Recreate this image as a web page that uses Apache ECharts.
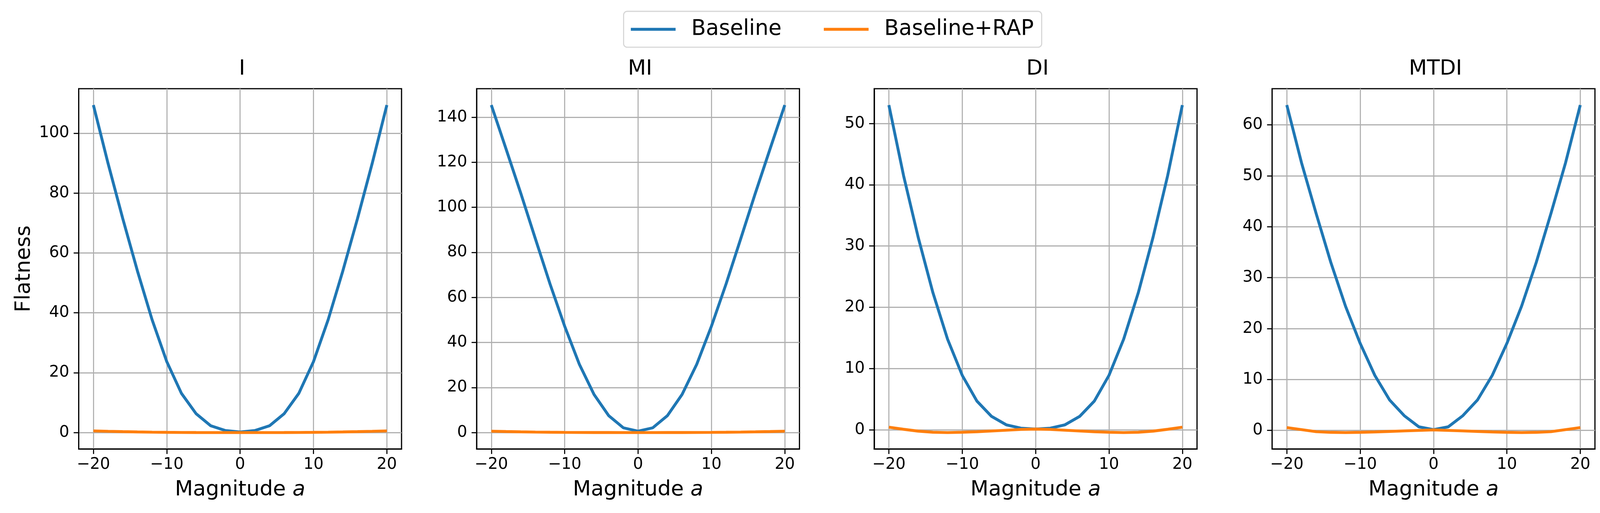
<!DOCTYPE html>
<html>
<head>
<meta charset="utf-8">
<script src="https://cdn.jsdelivr.net/npm/echarts@6/dist/echarts.min.js"></script>
<style>
	html, body { margin: 0; padding: 0; background: #fff; overflow: hidden; }
	#chart { position: absolute; left: 0; top: 0; }
</style>
</head>
<body>
<div id="chart"></div>
<script>
// data
var magnitudes = [-20, -18, -16, -14, -12, -10, -8, -6, -4, -2, 0, 2, 4, 6, 8, 10, 12, 14, 16, 18, 20];
var panelTitles = ["I", "MI", "DI", "MTDI"];

var baselineI = [109.4, 89.9, 71.5, 54.0, 37.7, 23.7, 13.1, 6.3, 2.25, 0.66, 0.2, 0.66, 2.25, 6.3, 13.1, 23.7, 37.7, 54.0, 71.5, 89.9, 109.4];
var rapI = [0.55, 0.42, 0.3, 0.2, 0.12, 0.07, 0.03, 0.01, 0.0, 0.0, 0.0, 0.0, 0.0, 0.01, 0.03, 0.07, 0.12, 0.2, 0.3, 0.42, 0.55];

var baselineMI = [145.4, 126.0, 106.4, 86.1, 66.0, 47.2, 30.3, 16.9, 7.5, 2.1, 0.6, 2.1, 7.5, 16.9, 30.3, 47.2, 66.0, 86.1, 106.4, 126.0, 145.4];
var rapMI = [0.6, 0.45, 0.32, 0.22, 0.14, 0.08, 0.04, 0.02, 0.01, 0.0, 0.0, 0.0, 0.01, 0.02, 0.04, 0.08, 0.14, 0.22, 0.32, 0.45, 0.6];

var baselineDI = [53.0, 41.5, 31.4, 22.4, 14.8, 8.9, 4.7, 2.2, 0.83, 0.28, 0.14, 0.28, 0.83, 2.2, 4.7, 8.9, 14.8, 22.4, 31.4, 41.5, 53.0];
var rapDI = [0.45, 0.1, -0.2, -0.38, -0.43, -0.38, -0.3, -0.18, -0.05, 0.08, 0.13, 0.08, -0.05, -0.18, -0.3, -0.38, -0.43, -0.38, -0.2, 0.1, 0.45];

var baselineMTDI = [63.9, 52.6, 42.6, 33.0, 24.4, 17.1, 10.8, 6.0, 2.9, 0.7, 0.15, 0.7, 2.9, 6.0, 10.8, 17.1, 24.4, 33.0, 42.6, 52.6, 63.9];
var rapMTDI = [0.55, 0.15, -0.25, -0.38, -0.42, -0.38, -0.3, -0.2, -0.1, 0.0, 0.1, 0.0, -0.1, -0.2, -0.3, -0.38, -0.42, -0.38, -0.25, 0.15, 0.55];

var xTicks = [-20, -10, 0, 10, 20];
var yTicksI = [0, 20, 40, 60, 80, 100];
var yTicksMI = [0, 20, 40, 60, 80, 100, 120, 140];
var yTicksDI = [0, 10, 20, 30, 40, 50];
var yTicksMTDI = [0, 10, 20, 30, 40, 50, 60];

var baselines = [baselineI, baselineMI, baselineDI, baselineMTDI];
var raps = [rapI, rapMI, rapDI, rapMTDI];
var yTicks = [yTicksI, yTicksMI, yTicksDI, yTicksMTDI];

// layout numbers are in 4431x1313 reference pixels, mapped onto the real viewport
var W = window.innerWidth || 4431;
var H = window.innerHeight || 1313;
var kx = W / 4431;
var ky = H / 1313;
var k = Math.min(kx, ky);
function SX(v) { return v * kx; }
function SY(v) { return v * ky; }
function S(v) { return v * k; }

var FONT = "DejaVu Sans";
var BLUE = "#1f77b4";
var ORANGE = "#ff7f0e";
var gridLefts = [218, 1320, 2421, 3523];
var gridTop = 227;
var gridWidth = 894;
var gridHeight = 922;

function minusSign(v) {
	return String(v).replace("-", "\u2212");
}

function pairs(ys) {
	var out = [];
	for (var i = 0; i < magnitudes.length; i++) {
		out.push([magnitudes[i], ys[i]]);
	}
	return out;
}

var grids = [], xAxes = [], yAxes = [], titles = [], series = [];

for (var p = 0; p < 4; p++) {
	// matplotlib style 5% margins
	var all = baselines[p].concat(raps[p]);
	var lo = Math.min.apply(null, all);
	var hi = Math.max.apply(null, all);
	var pad = (hi - lo) * 0.05;

	grids.push({
		left: SX(gridLefts[p]),
		top: SY(gridTop),
		width: SX(gridWidth),
		height: SY(gridHeight),
		containLabel: false,
		outerBoundsMode: "none",
		show: true,
		borderColor: "#000",
		borderWidth: S(3.3),
		backgroundColor: "#fff"
	});

	titles.push({
		text: panelTitles[p],
		left: SX(gridLefts[p] + gridWidth / 2),
		top: SY(145),
		textAlign: "center",
		textStyle: { fontFamily: FONT, fontSize: S(58), fontWeight: "normal", color: "#000" }
	});

	xAxes.push({
		type: "value",
		gridIndex: p,
		min: -22,
		max: 22,
		name: "{n|Magnitude }{i|a}",
		nameLocation: "middle",
		nameGap: SY(78),
		nameTextStyle: {
			rich: {
				n: { fontFamily: FONT, fontSize: S(58), color: "#000" },
				i: { fontFamily: FONT, fontSize: S(58), color: "#000", fontStyle: "italic" }
			}
		},
		axisLine: { show: true, onZero: false, lineStyle: { color: "#000", width: S(3.3) } },
		axisTick: { show: true, length: S(14), customValues: xTicks, lineStyle: { color: "#000", width: S(3) } },
		axisLabel: { customValues: xTicks, margin: SY(20), fontFamily: FONT, fontSize: S(44), color: "#000", formatter: minusSign },
		splitLine: { show: true, lineStyle: { color: "#b0b0b0", width: S(3) } }
	});

	yAxes.push({
		type: "value",
		gridIndex: p,
		min: lo - pad,
		max: hi + pad,
		name: p == 0 ? "Flatness" : "",
		nameLocation: "middle",
		nameGap: SX(122),
		nameTextStyle: { fontFamily: FONT, fontSize: S(58), color: "#000" },
		axisLine: { show: true, onZero: false, lineStyle: { color: "#000", width: S(3.3) } },
		axisTick: { show: true, length: S(14), customValues: yTicks[p], lineStyle: { color: "#000", width: S(3) } },
		axisLabel: { customValues: yTicks[p], margin: SX(26), fontFamily: FONT, fontSize: S(44), color: "#000" },
		splitLine: { show: true, lineStyle: { color: "#b0b0b0", width: S(3) } }
	});

	series.push({
		name: "Baseline",
		type: "line",
		xAxisIndex: p,
		yAxisIndex: p,
		data: pairs(baselines[p]),
		symbol: "none",
		animation: false,
		lineStyle: { color: BLUE, width: S(8) },
		itemStyle: { color: BLUE },
		z: 3
	});
	series.push({
		name: "Baseline+RAP",
		type: "line",
		xAxisIndex: p,
		yAxisIndex: p,
		data: pairs(raps[p]),
		symbol: "none",
		animation: false,
		lineStyle: { color: ORANGE, width: S(8) },
		itemStyle: { color: ORANGE },
		z: 4
	});
}

var el = document.getElementById("chart");
el.style.width = W + "px";
el.style.height = H + "px";
var chart = echarts.init(el, null, { renderer: "canvas", width: W, height: H });
chart.setOption({
	backgroundColor: "#fff",
	animation: false,
	title: titles,
	legend: {
		data: ["Baseline", "Baseline+RAP"],
		left: SX(1727),
		top: SY(29),
		orient: "horizontal",
		icon: "rect",
		itemWidth: S(124),
		itemHeight: S(8),
		itemGap: S(117),
		padding: [S(20), S(22), S(20), S(20)],
		borderColor: "#d6d6d6",
		borderWidth: S(3),
		borderRadius: S(10),
		textStyle: { fontFamily: FONT, fontSize: S(59), color: "#000", padding: [0, 0, 0, S(38)] }
	},
	grid: grids,
	xAxis: xAxes,
	yAxis: yAxes,
	series: series
});
</script>
</body>
</html>
